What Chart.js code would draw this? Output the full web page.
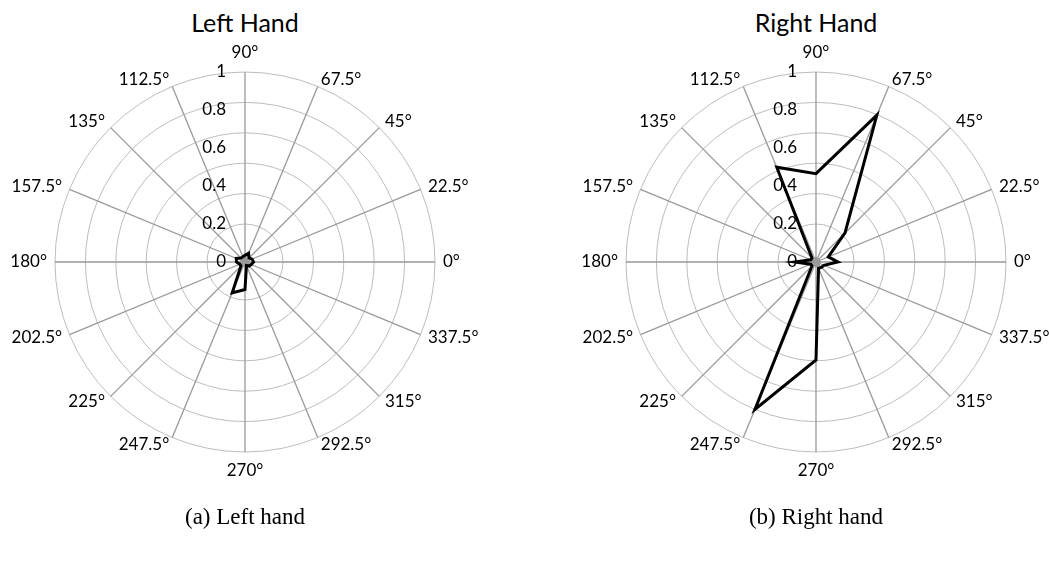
<!DOCTYPE html>
<html>
<head>
<meta charset="utf-8">
<script src="https://cdn.jsdelivr.net/npm/chart.js@4"></script>
<style>
  body { margin: 0; background: #fff; width: 1049px; height: 566px; position: relative; overflow: hidden; }
  canvas { position: absolute; top: 0; }
  #leftChart { left: 0; }
  #rightChart { left: 524px; }
  .title { position: absolute; top: 7px; width: 300px; text-align: center; font: 25px Lato, sans-serif; color: #000; }
  .caption { position: absolute; top: 504px; width: 300px; text-align: center; font: 23px "Liberation Serif", serif; color: #000; }
</style>
</head>
<body>
<div class="title" style="left:95px">Left Hand</div>
<div class="title" style="left:666px">Right Hand</div>
<canvas id="leftChart" width="524" height="566"></canvas>
<canvas id="rightChart" width="525" height="566"></canvas>
<div class="caption" style="left:95px">(a) Left hand</div>
<div class="caption" style="left:666px">(b) Right hand</div>
<script>
// clockwise from the top
const angleLabels = ["90°", "67.5°", "45°", "22.5°", "0°", "337.5°", "315°", "292.5°",
  "270°", "247.5°", "225°", "202.5°", "180°", "157.5°", "135°", "112.5°"];
const leftHand = [0.035, 0.05, 0.03, 0.04, 0.045, 0.035, 0.03, 0.02,
  0.145, 0.176, 0.03, 0.03, 0.045, 0.05, 0.03, 0.03];
const rightHand = [0.465, 0.837, 0.216, 0.07, 0.115, 0.045, 0.04, 0.035,
  0.516, 0.84, 0.03, 0.03, 0.11, 0.03, 0.03, 0.54];
const centerBlob = [0.025, 0.02, 0.025, 0.02, 0.025, 0.02, 0.025, 0.02,
  0.025, 0.02, 0.025, 0.02, 0.025, 0.02, 0.025, 0.02];
const radialValues = [0, 0.2, 0.4, 0.6, 0.8, 1];
const radialLabels = ["0", "0.2", "0.4", "0.6", "0.8", "1"];
const gridRings = [0, 0.2, 0.36, 0.52, 0.68, 0.84, 1];

const polarText = {
  id: "polarText",
  afterDraw(chart) {
    const scale = chart.scales.r;
    const ctx = chart.ctx;
    const r = scale.drawingArea;
    ctx.save();
    ctx.fillStyle = "#000";
    ctx.font = "17px Lato, sans-serif";
    angleLabels.forEach((lab, i) => {
      const p = scale.getPointPosition(i, r + 8);
      const c = Math.cos(p.angle);
      ctx.textBaseline = "middle";
      if (Math.abs(c) < 0.01) {
        const q = scale.getPointPosition(i, r + 19);
        ctx.textAlign = "center";
        ctx.fillText(lab, q.x, q.y);
      } else {
        ctx.textAlign = c > 0 ? "left" : "right";
        ctx.fillText(lab, p.x, p.y);
      }
    });
    ctx.textAlign = "right";
    ctx.textBaseline = "middle";
    radialValues.forEach((v, i) => {
      const d = scale.getDistanceFromCenterForValue(v);
      ctx.fillText(radialLabels[i], scale.xCenter - 19, scale.yCenter - d);
    });
    ctx.restore();
  },
};

function makeChart(id, values, pad) {
  return new Chart(document.getElementById(id), {
    type: "radar",
    data: {
      labels: angleLabels,
      datasets: [
        {
          data: values,
          borderColor: "#000",
          borderWidth: 3,
          fill: false,
          pointRadius: 0,
          tension: 0,
        },
        {
          data: centerBlob,
          borderColor: "#9a9a9a",
          backgroundColor: "#9a9a9a",
          borderWidth: 1,
          fill: true,
          pointRadius: 0,
        },
      ],
    },
    options: {
      responsive: false,
      animation: false,
      layout: { padding: pad },
      plugins: { legend: { display: false }, tooltip: { enabled: false } },
      scales: {
        r: {
          min: 0,
          max: 1,
          afterBuildTicks: (s) => {
            s.ticks = gridRings.map((v) => ({ value: v }));
          },
          ticks: { display: false },
          pointLabels: { display: false },
          grid: { circular: true, color: "#bdbdbd", lineWidth: 1 },
          angleLines: { color: "#999999", lineWidth: 1.3 },
        },
      },
    },
    plugins: [polarText],
  });
}

makeChart("leftChart", leftHand, { left: 55, top: 72, right: 89, bottom: 114 });
makeChart("rightChart", rightHand, { left: 102, top: 72, right: 43, bottom: 114 });
</script>
</body>
</html>
